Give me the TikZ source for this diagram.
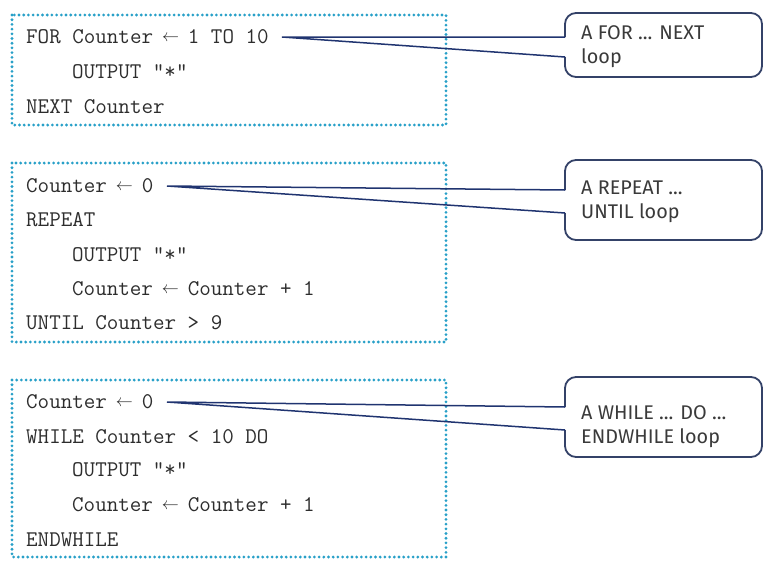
\documentclass[tikz,border=0pt]{standalone}
\usepackage{fontspec}
\usepackage{graphicx}
\newfontfamily\notefont{Fira Sans}
\definecolor{dotblue}{RGB}{40,160,200}
\definecolor{pointerblue}{RGB}{32,52,112}
\definecolor{calloutedge}{RGB}{52,66,104}
\definecolor{codegrey}{RGB}{45,45,45}
\definecolor{notegrey}{RGB}{58,58,58}
\newcommand{\asgn}{\makebox[0.525em]{\raisebox{1.5pt}{\resizebox{17pt}{!}{$\leftarrow$}}}}
\begin{document}
\begin{tikzpicture}[x=1pt, y=-1pt,
	codebox/.style={dotblue, line width=3.1pt, line cap=round, dash pattern=on 0pt off 4.7pt},
	code/.style={anchor=west, inner sep=0pt, text height=12pt, text depth=0pt, text=codegrey, font=\fontsize{22.4}{23}\selectfont\ttfamily},
	callout/.style={calloutedge, line width=1.8pt, rounded corners=11pt},
	pointer/.style={pointerblue, line width=1.5pt, line join=miter},
	note/.style={anchor=west, align=left, inner sep=0pt, text=notegrey, font=\fontsize{19.8}{24}\selectfont\notefont}]
	\useasboundingbox (0,0) rectangle (768,570);
	
	% FOR ... NEXT
	\draw[codebox] (12,15) rectangle (446,125);
	\node[code] (for1) at (26,37) {FOR Counter \asgn{} 1 TO 10};
	\node[code] (for2) at (72,72) {OUTPUT "*"};
	\node[code] (for3) at (26,107) {NEXT Counter};
	
	\path
	coordinate (tfor) at (282,37)
	coordinate (pfor1) at (565,37)
	coordinate (pfor2) at (565,57);
	\draw[callout] (pfor1) -- (565,13) -- (762,13) -- (762,77) -- (565,77) -- (pfor2);
	\draw[pointer] (pfor1) -- (tfor) -- (pfor2);
	\node[note] (nfor) at (581,47) {A FOR ... NEXT\\loop};
	
	% REPEAT ... UNTIL
	\draw[codebox] (12,163) rectangle (446,342);
	\node[code] (rep1) at (26,186) {Counter \asgn{} 0};
	\node[code] (rep2) at (26,220) {REPEAT};
	\node[code] (rep3) at (72,255) {OUTPUT "*"};
	\node[code] (rep4) at (72,289) {Counter \asgn{} Counter + 1};
	\node[code] (rep5) at (26,323) {UNTIL Counter > 9};
	
	\path
	coordinate (trep) at (167,186)
	coordinate (prep1) at (565,190)
	coordinate (prep2) at (565,213);
	\draw[callout] (prep1) -- (565,160) -- (762,160) -- (762,240) -- (565,240) -- (prep2);
	\draw[pointer] (prep1) -- (trep) -- (prep2);
	\node[note] (nrep) at (581,202) {A REPEAT ...\\UNTIL loop};
	
	% WHILE ... DO ... ENDWHILE
	\draw[codebox] (12,380) rectangle (446,557);
	\node[code] (wh1) at (26,402) {Counter \asgn{} 0};
	\node[code] (wh2) at (26,437) {WHILE Counter < 10 DO};
	\node[code] (wh3) at (72,470) {OUTPUT "*"};
	\node[code] (wh4) at (72,505) {Counter \asgn{} Counter + 1};
	\node[code] (wh5) at (26,540) {ENDWHILE};
	
	\path
	coordinate (twh) at (167,402)
	coordinate (pwh1) at (565,407)
	coordinate (pwh2) at (565,430);
	\draw[callout] (pwh1) -- (565,377) -- (762,377) -- (762,457) -- (565,457) -- (pwh2);
	\draw[pointer] (pwh1) -- (twh) -- (pwh2);
	\node[note] (nwh) at (581,427) {A WHILE ... DO ...\\ENDWHILE loop};
\end{tikzpicture}
\end{document}
